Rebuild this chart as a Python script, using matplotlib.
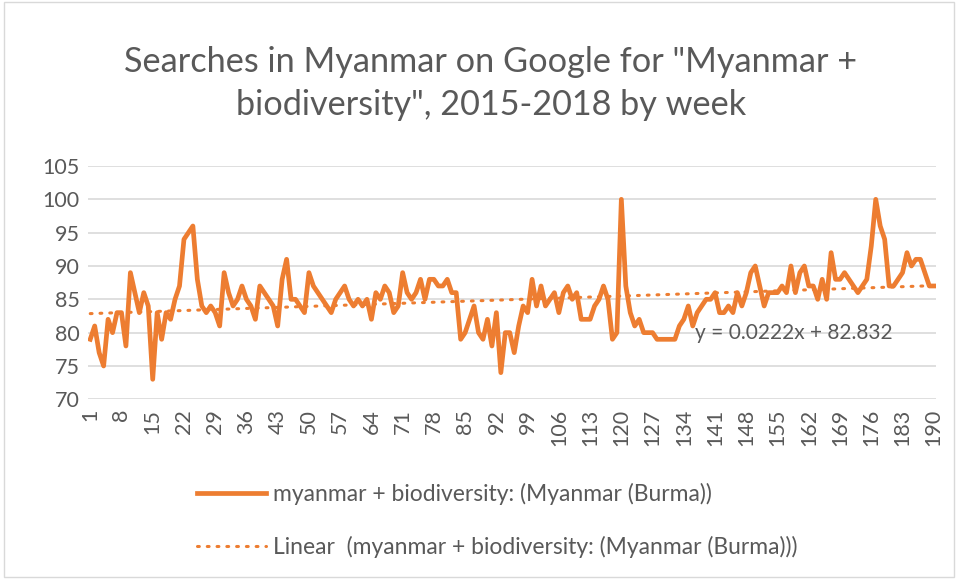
import matplotlib
matplotlib.use("Agg")
import matplotlib.pyplot as plt
from matplotlib.lines import Line2D
from matplotlib.patches import Rectangle
import numpy as np

weeks = list(range(1, 191))
searches = [79, 81, 77, 75, 82, 80, 83, 83, 78, 89,
            86, 83, 86, 84, 73, 83, 79, 83, 82, 85,
            87, 94, 95, 96, 88, 84, 83, 84, 83, 81,
            89, 86, 84, 85, 87, 85, 84, 82, 87, 86,
            85, 84, 81, 88, 91, 85, 85, 84, 83, 89,
            87, 86, 85, 84, 83, 85, 86, 87, 85, 84,
            85, 84, 85, 82, 86, 85, 87, 86, 83, 84,
            89, 86, 85, 86, 88, 85, 88, 88, 87, 87,
            88, 86, 86, 79, 80, 82, 84, 80, 79, 82,
            78, 83, 74, 80, 80, 77, 81, 84, 83, 88,
            84, 87, 84, 85, 86, 83, 86, 87, 85, 86,
            82, 82, 82, 84, 85, 87, 85, 79, 80, 100,
            87, 83, 81, 82, 80, 80, 80, 79, 79, 79,
            79, 79, 81, 82, 84, 81, 83, 84, 85, 85,
            86, 83, 83, 84, 83, 86, 84, 86, 89, 90,
            87, 84, 86, 86, 86, 87, 86, 90, 86, 89,
            90, 87, 87, 85, 88, 85, 92, 88, 88, 89,
            88, 87, 86, 87, 88, 93, 100, 96, 94, 87,
            87, 88, 89, 92, 90, 91, 91, 89, 87, 87]
trend_slope = 0.0222
trend_intercept = 82.832
y_ticks = [70, 75, 80, 85, 90, 95, 100, 105]
x_tick_weeks = list(range(1, 191, 7))

title = 'Searches in Myanmar on Google for "Myanmar +\nbiodiversity", 2015-2018 by week'
series_label = "myanmar + biodiversity: (Myanmar (Burma))"
trend_label = "Linear  (myanmar + biodiversity: (Myanmar (Burma)))"
equation = "y = 0.0222x + 82.832"

ORANGE = "#ED7D31"
GREY = "#595959"
GRID = "#D9D9D9"
FONT = ["Lato", "DejaVu Sans"]

plt.rcParams["font.family"] = FONT

fig = plt.figure(figsize=(9.58, 5.79), dpi=100)
fig.patches.append(Rectangle((0.004, 0.004), 0.992, 0.992, transform=fig.transFigure,
                             fill=False, edgecolor="#D9D9D9", linewidth=1))

W, H = 958, 579
left, right, top, bottom = 88, 936, 166, 399.3
ax = fig.add_axes([left / W, 1 - bottom / H, (right - left) / W, (bottom - top) / H])

x = np.array(weeks)
ax.plot(x, searches, color=ORANGE, linewidth=3.4, solid_joinstyle="round", zorder=3)
trend = trend_slope * x + trend_intercept
ax.plot(x, trend, color=ORANGE, linewidth=2.2, linestyle=(0, (0.6, 2.6)),
        dash_capstyle="round", zorder=2)

ax.set_xlim(0.5, 190.5)
ax.set_ylim(70, 105)
ax.set_yticks(y_ticks)
ax.set_yticklabels([str(v) for v in y_ticks], fontsize=15.5, color=GREY)
ax.set_xticks(x_tick_weeks)
ax.set_xticklabels([str(v) for v in x_tick_weeks], rotation=90, fontsize=15.5, color=GREY)
ax.tick_params(axis="y", length=0, pad=6)
ax.tick_params(axis="x", length=0, pad=7)
ax.grid(axis="y", color=GRID, linewidth=1.2)
ax.set_axisbelow(True)
for s in ax.spines.values():
    s.set_visible(False)

ax.text(0.716, 0.285, equation, transform=ax.transAxes, fontsize=15, color=GREY,
        ha="left", va="center")

fig.text(491 / W, 1 - 83.5 / H, title, ha="center", va="center", fontsize=24.7,
         color=GREY, linespacing=1.4)

handles = [Line2D([], [], color=ORANGE, linewidth=3.4),
           Line2D([], [], color=ORANGE, linewidth=2.2, linestyle=(0, (0.6, 2.6)),
                  dash_capstyle="round")]
fig.legend(handles, [series_label, trend_label], loc="center left",
           bbox_to_anchor=(197 / W, 1 - 520.5 / H), frameon=False, fontsize=16.5,
           labelcolor=GREY, handlelength=3.0, handletextpad=0.3, labelspacing=1.37,
           borderpad=0, borderaxespad=0)

fig.savefig("out.png", dpi=100)
